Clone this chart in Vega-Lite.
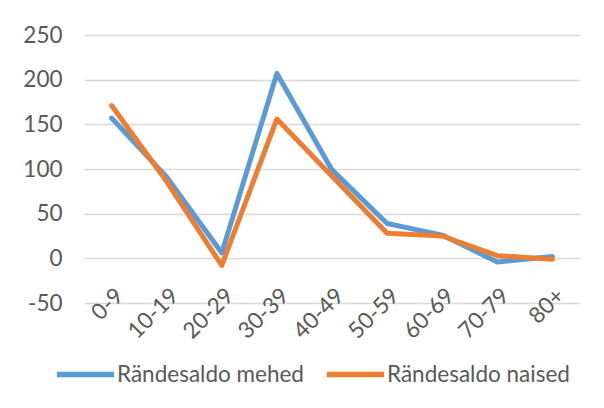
{
  "$schema": "https://vega.github.io/schema/vega-lite/v6.json",
  "width": 496,
  "height": 268,
  "autosize": {"type": "none"},
  "padding": {"left": 84, "top": 35, "right": 24, "bottom": 105},
  "background": "white",
  "data": {
    "values": [
      {"age": "0-9", "series": "Rändesaldo mehed", "value": 157},
      {"age": "10-19", "series": "Rändesaldo mehed", "value": 91},
      {"age": "20-29", "series": "Rändesaldo mehed", "value": 6},
      {"age": "30-39", "series": "Rändesaldo mehed", "value": 207},
      {"age": "40-49", "series": "Rändesaldo mehed", "value": 99},
      {"age": "50-59", "series": "Rändesaldo mehed", "value": 39},
      {"age": "60-69", "series": "Rändesaldo mehed", "value": 26},
      {"age": "70-79", "series": "Rändesaldo mehed", "value": -4},
      {"age": "80+", "series": "Rändesaldo mehed", "value": 2},
      {"age": "0-9", "series": "Rändesaldo naised", "value": 171},
      {"age": "10-19", "series": "Rändesaldo naised", "value": 86},
      {"age": "20-29", "series": "Rändesaldo naised", "value": -8},
      {"age": "30-39", "series": "Rändesaldo naised", "value": 156},
      {"age": "40-49", "series": "Rändesaldo naised", "value": 92},
      {"age": "50-59", "series": "Rändesaldo naised", "value": 28},
      {"age": "60-69", "series": "Rändesaldo naised", "value": 25},
      {"age": "70-79", "series": "Rändesaldo naised", "value": 3},
      {"age": "80+", "series": "Rändesaldo naised", "value": -1}
    ]
  },
  "mark": {"type": "line", "strokeWidth": 5, "strokeJoin": "round", "strokeCap": "round"},
  "encoding": {
    "x": {
      "field": "age",
      "type": "ordinal",
      "sort": null,
      "scale": {"type": "point", "padding": 0.5},
      "axis": {
        "title": null,
        "labelAngle": -45,
        "labelAlign": "right",
        "labelBaseline": "top",
        "domain": false,
        "ticks": false,
        "grid": false,
        "offset": -21,
        "labelPadding": 2,
        "labelFont": "Lato",
        "labelFontSize": 22.5,
        "labelColor": "#595959"
      }
    },
    "y": {
      "field": "value",
      "type": "quantitative",
      "scale": {"domain": [-50, 250], "nice": false, "zero": false},
      "axis": {
        "title": null,
        "values": [-50, 0, 50, 100, 150, 200, 250],
        "labelExpr": "'' + datum.value",
        "domain": false,
        "ticks": false,
        "grid": true,
        "gridColor": "#d9d9d9",
        "gridWidth": 1.5,
        "labelPadding": 22,
        "labelFont": "Lato",
        "labelFontSize": 22.5,
        "labelColor": "#595959"
      }
    },
    "color": {
      "field": "series",
      "type": "nominal",
      "scale": {"domain": ["Rändesaldo mehed", "Rändesaldo naised"], "range": ["#5B9BD5", "#ED7D31"]},
      "legend": {
        "title": null,
        "orient": "none",
        "direction": "horizontal",
        "legendX": -30,
        "legendY": 308,
        "symbolType": "stroke",
        "symbolSize": 3249,
        "symbolStrokeWidth": 5.5,
        "labelFont": "Lato",
        "labelFontSize": 22.5,
        "labelColor": "#595959",
        "labelOffset": 0,
        "columnPadding": 12,
        "labelLimit": 300
      }
    }
  },
  "config": {"view": {"stroke": null}}
}
